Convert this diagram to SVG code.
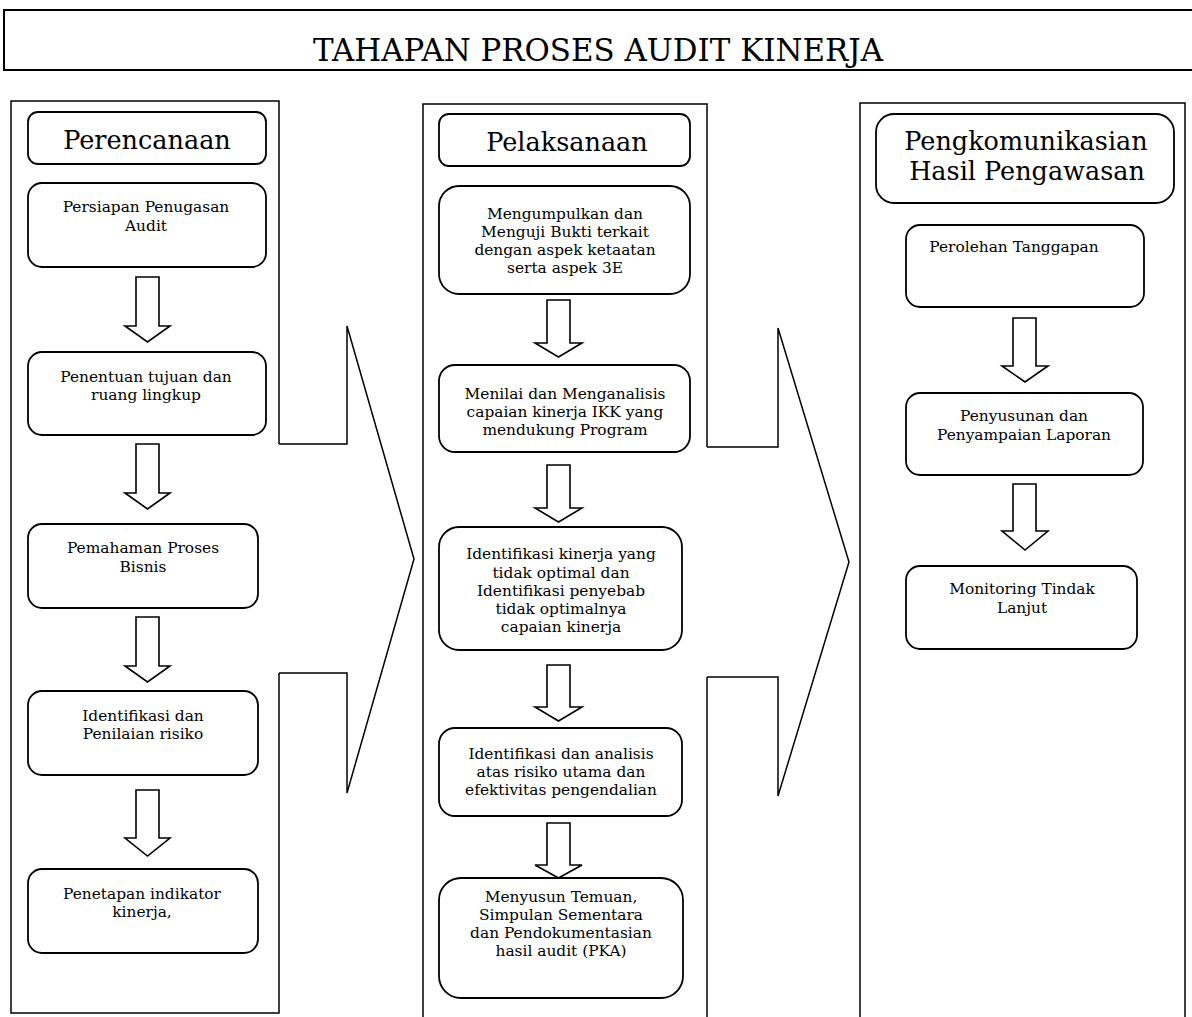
<svg xmlns="http://www.w3.org/2000/svg" width="1192" height="1017" viewBox="0 0 1192 1017">
<style>
  .frame { fill: #fff; stroke: #000; stroke-width: 1.5; }
  .box { fill: #fff; stroke: #000; stroke-width: 1.8; }
  .arr { fill: #fff; stroke: #000; stroke-width: 1.6; stroke-linejoin: miter; }
  .bigfill { fill: #fff; stroke: none; }
  .bigline { fill: none; stroke: #000; stroke-width: 1.5; stroke-linejoin: miter; }
  text { font-family: "DejaVu Serif", "Liberation Serif", serif; fill: #000; text-anchor: middle; }
  .t { font-size: 15.4px; }
  .h { font-size: 25.5px; }
  .title { font-size: 32px; }
</style>
<rect width="1192" height="1017" fill="#fff"/>

<g id="title">
  <rect x="4" y="10" width="1200" height="60" fill="#fff" stroke="#000" stroke-width="2"/>
  <text class="title" x="598" y="61" textLength="570" lengthAdjust="spacingAndGlyphs">TAHAPAN PROSES AUDIT KINERJA</text>
</g>

<g id="panel-perencanaan"><rect class="frame" x="11" y="101" width="268" height="912"/></g>
<g id="panel-pelaksanaan"><rect class="frame" x="423" y="104" width="284" height="930"/></g>
<g id="panel-pengkomunikasian"><rect class="frame" x="860" y="103" width="325" height="930"/></g>

<g id="connectors">
  <path class="bigfill" d="M275,444 L347,444 L347,326 L414,559 L347,793 L347,673 L275,673 Z"/>
  <path class="bigline" d="M279,444 L347,444 L347,326 L414,559 L347,793 L347,673 L279,673"/>
  <path class="bigfill" d="M703,447 L778,447 L778,328 L849,562 L778,796 L778,677 L703,677 Z"/>
  <path class="bigline" d="M707,447 L778,447 L778,328 L849,562 L778,796 L778,677 L707,677"/>

  <path class="arr" d="M136,277 H159 V326 H170 L147.5,342 L125,326 H136 Z"/>
  <path class="arr" d="M136,444 H159 V493 H170 L147.5,509 L125,493 H136 Z"/>
  <path class="arr" d="M136,617 H159 V666 H170 L147.5,682 L125,666 H136 Z"/>
  <path class="arr" d="M136,790 H159 V838 H170 L147.5,856 L125,838 H136 Z"/>

  <path class="arr" d="M547,300 H570 V343 H582 L558.5,357 L535,343 H547 Z"/>
  <path class="arr" d="M547,465 H570 V508 H582 L558.5,522 L535,508 H547 Z"/>
  <path class="arr" d="M547,665 H570 V707 H582 L558.5,721 L535,707 H547 Z"/>
  <path class="arr" d="M547,823 H570 V865 H582 L558.5,878 L535,865 H547 Z"/>

  <path class="arr" d="M1013,318 H1036 V366 H1048 L1025,382 L1002,366 H1013 Z"/>
  <path class="arr" d="M1013,484 H1036 V531 H1048 L1025,550 L1002,531 H1013 Z"/>
</g>

<g id="h-perencanaan">
  <rect class="box" x="28" y="112" width="238" height="52" rx="10"/>
  <text class="h" x="147" y="149">Perencanaan</text>
</g>
<g id="p1">
  <rect class="box" x="28" y="183" width="238" height="84" rx="14"/>
  <text class="t" x="146" y="212">Persiapan Penugasan</text>
  <text class="t" x="146" y="231">Audit</text>
</g>
<g id="p2">
  <rect class="box" x="28" y="352" width="238" height="83" rx="14"/>
  <text class="t" x="146" y="382">Penentuan tujuan dan</text>
  <text class="t" x="146" y="400">ruang lingkup</text>
</g>
<g id="p3">
  <rect class="box" x="28" y="524" width="230" height="84" rx="14"/>
  <text class="t" x="143" y="553">Pemahaman Proses</text>
  <text class="t" x="143" y="572">Bisnis</text>
</g>
<g id="p4">
  <rect class="box" x="28" y="691" width="230" height="84" rx="14"/>
  <text class="t" x="143" y="721">Identifikasi dan</text>
  <text class="t" x="143" y="739">Penilaian risiko</text>
</g>
<g id="p5">
  <rect class="box" x="28" y="869" width="230" height="84" rx="14"/>
  <text class="t" x="142" y="899">Penetapan indikator</text>
  <text class="t" x="142" y="917">kinerja,</text>
</g>

<g id="h-pelaksanaan">
  <rect class="box" x="439" y="114" width="251" height="52" rx="10"/>
  <text class="h" x="567" y="151">Pelaksanaan</text>
</g>
<g id="l1">
  <rect class="box" x="439" y="186" width="251" height="108" rx="20"/>
  <text class="t" x="565" y="219">Mengumpulkan dan</text>
  <text class="t" x="565" y="237">Menguji Bukti terkait</text>
  <text class="t" x="565" y="255">dengan aspek ketaatan</text>
  <text class="t" x="565" y="273">serta aspek 3E</text>
</g>
<g id="l2">
  <rect class="box" x="439" y="365" width="251" height="87" rx="16"/>
  <text class="t" x="565" y="399">Menilai dan Menganalisis</text>
  <text class="t" x="565" y="417">capaian kinerja IKK yang</text>
  <text class="t" x="565" y="435">mendukung Program</text>
</g>
<g id="l3">
  <rect class="box" x="439" y="527" width="243" height="123" rx="20"/>
  <text class="t" x="561" y="559">Identifikasi kinerja yang</text>
  <text class="t" x="561" y="578">tidak optimal dan</text>
  <text class="t" x="561" y="596">Identifikasi penyebab</text>
  <text class="t" x="561" y="614">tidak optimalnya</text>
  <text class="t" x="561" y="632">capaian kinerja</text>
</g>
<g id="l4">
  <rect class="box" x="439" y="728" width="243" height="88" rx="16"/>
  <text class="t" x="561" y="759">Identifikasi dan analisis</text>
  <text class="t" x="561" y="777">atas risiko utama dan</text>
  <text class="t" x="561" y="795">efektivitas pengendalian</text>
</g>
<g id="l5">
  <rect class="box" x="439" y="878" width="244" height="120" rx="22"/>
  <text class="t" x="561" y="902">Menyusun Temuan,</text>
  <text class="t" x="561" y="920">Simpulan Sementara</text>
  <text class="t" x="561" y="938">dan Pendokumentasian</text>
  <text class="t" x="561" y="956">hasil audit (PKA)</text>
</g>

<g id="h-pengkomunikasian">
  <rect class="box" x="876" y="114" width="298" height="89" rx="18"/>
  <text class="h" x="1026" y="150">Pengkomunikasian</text>
  <text class="h" x="1027" y="180">Hasil Pengawasan</text>
</g>
<g id="k1">
  <rect class="box" x="906" y="225" width="238" height="82" rx="14"/>
  <text class="t" x="1014" y="252">Perolehan Tanggapan</text>
</g>
<g id="k2">
  <rect class="box" x="906" y="393" width="237" height="82" rx="14"/>
  <text class="t" x="1024" y="421">Penyusunan dan</text>
  <text class="t" x="1024" y="440">Penyampaian Laporan</text>
</g>
<g id="k3">
  <rect class="box" x="906" y="566" width="231" height="83" rx="14"/>
  <text class="t" x="1022" y="594">Monitoring Tindak</text>
  <text class="t" x="1022" y="613">Lanjut</text>
</g>
</svg>
